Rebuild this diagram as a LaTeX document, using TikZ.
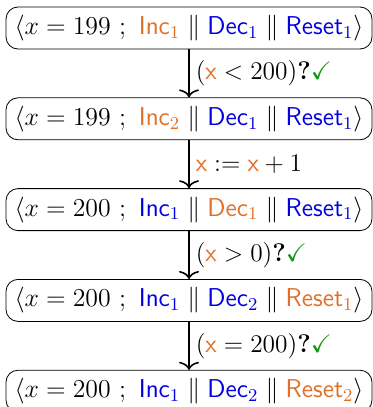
\RequirePackage{fix-cm}
\documentclass[tikz,border=0pt]{standalone}
\usepackage{amssymb}
\usetikzlibrary{positioning,arrows.meta}

\definecolor{actcol}{RGB}{224,112,40}
\definecolor{idlecol}{RGB}{0,0,225}
\definecolor{okcol}{RGB}{20,150,20}

\newcommand{\actp}[2]{\textcolor{actcol}{\mathsf{#1}_{#2}}}
\newcommand{\idlp}[2]{\textcolor{idlecol}{\mathsf{#1}_{#2}}}
\newcommand{\xvar}{\textcolor{actcol}{\mathsf{x}}}
\newcommand{\okmark}{\textbf{?}\textcolor{okcol}{\checkmark}}

\tikzset{
  state/.style={draw,rounded corners=6pt,inner sep=0.5pt,minimum width=183pt,
    minimum height=21pt,font=\fontsize{12.9}{16}\selectfont},
  guard/.style={right,font=\fontsize{12.7}{15}\selectfont,inner sep=3pt}
}

\begin{document}
\begin{tikzpicture}[x=0.5pt,y=-0.5pt,>={To[length=4pt,width=10pt]}]
  \useasboundingbox (0,0) rectangle (373,407);

  % Configurations successives
  \node[state] (c1) at (189,28)
    {$\bigl\langle x = 199\ ;\ \actp{Inc}{1}\parallel\idlp{Dec}{1}\parallel\idlp{Reset}{1}\bigr\rangle$};
  \node[state,below=24pt of c1] (c2)
    {$\bigl\langle x = 199\ ;\ \actp{Inc}{2}\parallel\idlp{Dec}{1}\parallel\idlp{Reset}{1}\bigr\rangle$};
  \node[state,below=24pt of c2] (c3)
    {$\bigl\langle x = 200\ ;\ \idlp{Inc}{1}\parallel\actp{Dec}{1}\parallel\idlp{Reset}{1}\bigr\rangle$};
  \node[state,below=24pt of c3] (c4)
    {$\bigl\langle x = 200\ ;\ \idlp{Inc}{1}\parallel\idlp{Dec}{2}\parallel\actp{Reset}{1}\bigr\rangle$};
  \node[state,below=24pt of c4] (c5)
    {$\bigl\langle x = 200\ ;\ \idlp{Inc}{1}\parallel\idlp{Dec}{2}\parallel\actp{Reset}{2}\bigr\rangle$};

  % Transitions
  \draw[->,thick] (c1) -- (c2) node[guard,midway] {$(\xvar < 200)$\okmark};
  \draw[->,thick] (c2) -- (c3) node[guard,midway] {$\xvar := \xvar + 1$};
  \draw[->,thick] (c3) -- (c4) node[guard,midway] {$(\xvar > 0)$\okmark};
  \draw[->,thick] (c4) -- (c5) node[guard,midway] {$(\xvar = 200)$\okmark};
\end{tikzpicture}
\end{document}
